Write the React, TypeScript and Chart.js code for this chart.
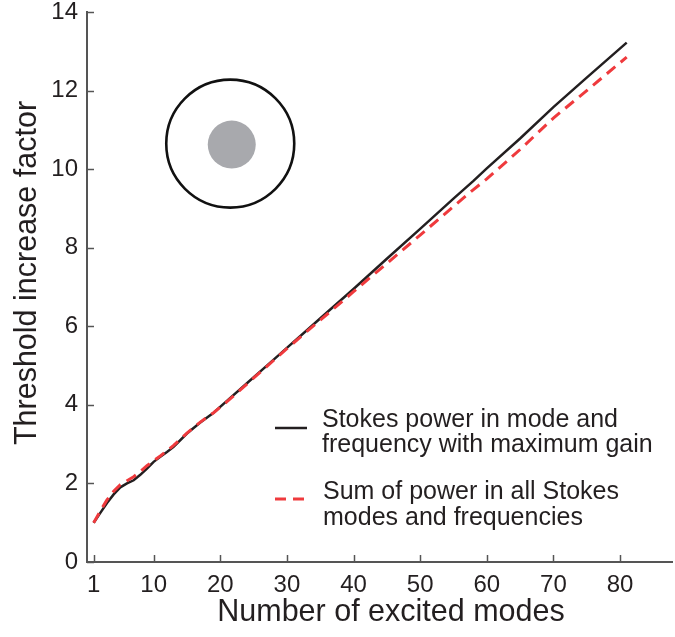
import React, { useEffect, useRef } from "react";
import { Chart, registerables } from "chart.js";

Chart.register(...registerables);

const modes = [1, 2, 3, 4, 5, 6, 7, 8, 9, 10, 11, 12, 13, 15, 17, 19, 21, 24, 27, 30, 33, 36, 40, 45, 50, 55, 58, 60, 65, 70, 75, 81];
const maxGain = [1.0, 1.25, 1.5, 1.72, 1.9, 2.0, 2.08, 2.22, 2.38, 2.55, 2.68, 2.8, 2.93, 3.27, 3.55, 3.8, 4.1, 4.55, 5.0, 5.45, 5.9, 6.35, 6.95, 7.72, 8.48, 9.25, 9.7, 10.02, 10.78, 11.58, 12.33, 13.22];
const sumPower = [1.0, 1.3, 1.58, 1.8, 1.97, 2.07, 2.17, 2.3, 2.45, 2.58, 2.7, 2.83, 2.97, 3.28, 3.56, 3.8, 4.08, 4.53, 4.98, 5.43, 5.87, 6.3, 6.88, 7.6, 8.32, 9.05, 9.48, 9.75, 10.5, 11.3, 12.0, 12.85];
const xTickValues = [1, 10, 20, 30, 40, 50, 60, 70, 80];
const yTickValues = [0, 2, 4, 6, 8, 10, 12, 14];
const xTitle = "Number of excited modes";
const yTitle = "Threshold increase factor";
const legendMaxGain = ["Stokes power in mode and", "frequency with maximum gain"];
const legendSum = ["Sum of power in all Stokes", "modes and frequencies"];
const insetCenter = { x: 21.5, y: 10.65 };

const FONT = "'Liberation Sans', Arial, Helvetica, sans-serif";
const AXIS = "#555555";
const TEXT = "#231f20";
const BLACK = "#231f20";
const RED = "#ef3a3d";

const decorPlugin = {
  id: "decor",
  afterDatasetsDraw(chart: any) {
    const { ctx, chartArea, scales } = chart;
    const xs = scales.x;
    const ys = scales.y;
    ctx.save();
    // inward ticks
    ctx.strokeStyle = AXIS;
    ctx.lineWidth = 1.5;
    xTickValues.forEach((v) => {
      const px = Math.round(xs.getPixelForValue(v)) + 0.5;
      ctx.beginPath();
      ctx.moveTo(px, chartArea.bottom);
      ctx.lineTo(px, chartArea.bottom - 7);
      ctx.stroke();
    });
    yTickValues.forEach((v) => {
      const py = Math.round(ys.getPixelForValue(v)) + 0.5;
      ctx.beginPath();
      ctx.moveTo(chartArea.left, py);
      ctx.lineTo(chartArea.left + 7, py);
      ctx.stroke();
    });
    // inset fibre cross-section
    const cx = xs.getPixelForValue(insetCenter.x);
    const cy = ys.getPixelForValue(insetCenter.y);
    ctx.beginPath();
    ctx.arc(cx, cy, 64, 0, Math.PI * 2);
    ctx.strokeStyle = "#111111";
    ctx.lineWidth = 2.6;
    ctx.stroke();
    ctx.beginPath();
    ctx.arc(cx + 1.5, cy + 1, 24, 0, Math.PI * 2);
    ctx.fillStyle = "#a8a9ad";
    ctx.fill();
    // axis titles
    ctx.fillStyle = TEXT;
    ctx.font = `30.5px ${FONT}`;
    ctx.textAlign = "center";
    ctx.textBaseline = "middle";
    ctx.fillText(xTitle, chartArea.left + 304, chartArea.bottom + 51);
    ctx.save();
    ctx.translate(28, chartArea.top + 261);
    ctx.rotate(-Math.PI / 2);
    ctx.fillText(yTitle, 0, 0);
    ctx.restore();
    // legend
    const lx = chartArea.left + 188;
    const tx = chartArea.left + 235;
    const b = chartArea.bottom;
    ctx.font = `25px ${FONT}`;
    ctx.textBaseline = "middle";
    ctx.textAlign = "left";
    ctx.lineWidth = 2.5;
    ctx.strokeStyle = BLACK;
    ctx.setLineDash([]);
    ctx.beginPath();
    ctx.moveTo(lx, b - 134);
    ctx.lineTo(lx + 32, b - 134);
    ctx.stroke();
    ctx.fillText(legendMaxGain[0], tx, b - 142);
    ctx.fillText(legendMaxGain[1], tx, b - 117);
    ctx.strokeStyle = RED;
    ctx.lineWidth = 3;
    ctx.setLineDash([11, 7]);
    ctx.beginPath();
    ctx.moveTo(lx, b - 63);
    ctx.lineTo(lx + 32, b - 63);
    ctx.stroke();
    ctx.setLineDash([]);
    ctx.fillText(legendSum[0], tx + 1, b - 70);
    ctx.fillText(legendSum[1], tx + 1, b - 44);
    ctx.restore();
  },
};

export default function App() {
  const ref = useRef<HTMLCanvasElement>(null);
  useEffect(() => {
    document.body.style.margin = "0";
    const canvas = ref.current!;
    const chart = new Chart(canvas, {
      type: "line",
      data: {
        datasets: [
          {
            label: "Stokes power in mode and frequency with maximum gain",
            data: modes.map((m, i) => ({ x: m, y: maxGain[i] })),
            borderColor: BLACK,
            borderWidth: 2.5,
            pointRadius: 0,
            tension: 0,
            order: 1,
          },
          {
            label: "Sum of power in all Stokes modes and frequencies",
            data: modes.map((m, i) => ({ x: m, y: sumPower[i] })),
            borderColor: RED,
            borderWidth: 3,
            borderDash: [11, 7],
            pointRadius: 0,
            tension: 0,
            order: 0,
          },
        ],
      },
      plugins: [decorPlugin],
      options: {
        animation: false,
        responsive: false,
        maintainAspectRatio: false,
        layout: { padding: { top: 0, right: 3, left: 0, bottom: 0 } },
        plugins: { legend: { display: false }, tooltip: { enabled: false } },
        scales: {
          x: {
            type: "linear",
            min: 0,
            max: 87.8,
            afterBuildTicks: (s: any) => {
              s.ticks = xTickValues.map((v) => ({ value: v }));
            },
            afterFit: (s: any) => {
              s.height = 75;
            },
            grid: { display: false, drawTicks: false },
            border: { display: true, color: AXIS, width: 2 },
            ticks: {
              autoSkip: false,
              maxRotation: 0,
              padding: 9,
              color: TEXT,
              font: { family: FONT, size: 24 },
              callback: (v: any) => String(v),
            },
            title: { display: false },
          },
          y: {
            type: "linear",
            min: 0,
            max: 14,
            afterBuildTicks: (s: any) => {
              s.ticks = yTickValues.map((v) => ({ value: v }));
            },
            afterFit: (s: any) => {
              s.width = 87;
              s.paddingTop = 12;
            },
            grid: { display: false, drawTicks: false },
            border: { display: true, color: AXIS, width: 2 },
            ticks: {
              padding: 9,
              color: TEXT,
              font: { family: FONT, size: 24 },
              callback: (v: any) => String(v),
            },
            title: { display: false },
          },
        },
      },
    });
    return () => chart.destroy();
  }, []);
  return (
    <div style={{ width: 675, height: 637 }}>
      <canvas ref={ref} width={675} height={637} style={{ display: "block" }} />
    </div>
  );
}
